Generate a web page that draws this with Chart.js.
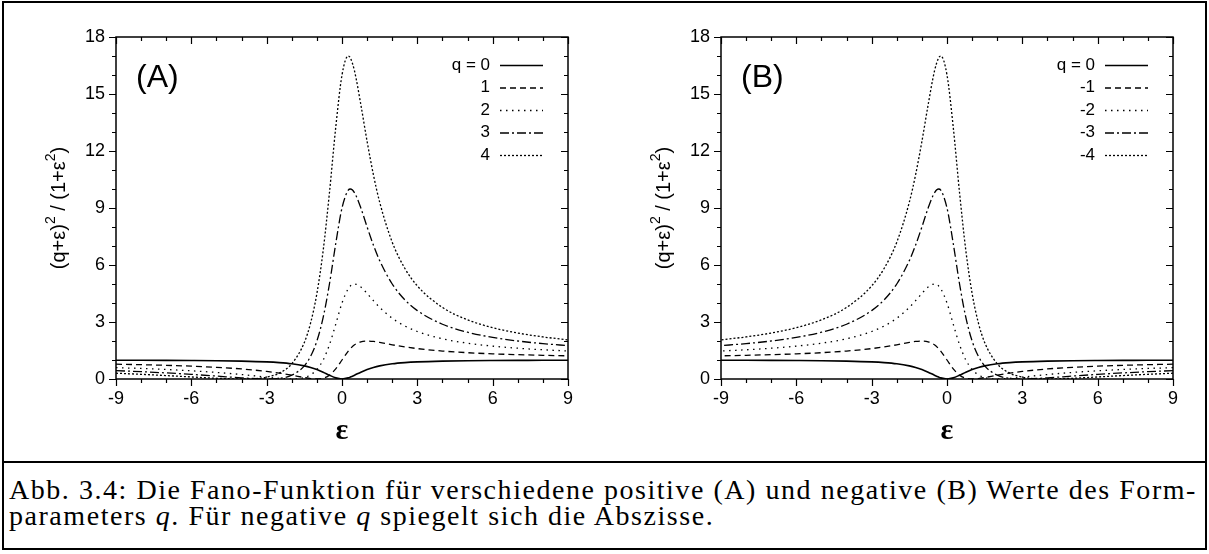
<!DOCTYPE html>
<html>
<head>
<meta charset="utf-8">
<script src="https://cdn.jsdelivr.net/npm/chart.js@4.4.0/dist/chart.umd.min.js"></script>
<style>
  body { margin: 0; background: #fff; width: 1209px; height: 554px; overflow: hidden; position: relative; }
  #frame { position: absolute; left: 2px; top: 1px; width: 1205px; height: 549px; border: 2px solid #000; box-sizing: border-box; }
  #rule { position: absolute; left: 2px; top: 461px; width: 1205px; height: 2px; background: #000; }
  canvas { position: absolute; top: 0; }
  #chartA { left: 0; }
  #chartB { left: 605px; }
  #caption { position: absolute; left: 9px; top: 477px; width: 1200px; font-family: "Liberation Serif", "Times New Roman", serif; font-size: 28px; line-height: 26px; color: #000; white-space: nowrap; }
</style>
</head>
<body>
<div id="frame"></div>
<div id="rule"></div>
<canvas id="chartA" width="600" height="460"></canvas>
<canvas id="chartB" width="600" height="460"></canvas>
<div id="caption">
  <div><span id="cap1">Abb. 3.4: Die Fano-Funktion für verschiedene positive (A) und negative (B) Werte des Form-</span></div>
  <div>parameters <i>q</i>. Für negative <i>q</i> spiegelt sich die Abszisse.</div>
</div>
<script>
// energy axis of panel A, and the mirrored axis of panel B
const eps = [-9, -8, -7, -6, -5, -4, -3, -2.5, -2, -1.5, -1.25, -1, -0.75, -0.5, -0.25, 0,
  0.25, 0.333, 0.5, 0.75, 1, 1.25, 1.5, 2, 2.5, 3, 4, 5, 6, 7, 8, 9];
const epsB = [9, 8, 7, 6, 5, 4, 3, 2.5, 2, 1.5, 1.25, 1, 0.75, 0.5, 0.25, 0,
  -0.25, -0.333, -0.5, -0.75, -1, -1.25, -1.5, -2, -2.5, -3, -4, -5, -6, -7, -8, -9];

// curve values (|q| = 0..4)
const q0 = [0.988, 0.985, 0.98, 0.973, 0.962, 0.941, 0.9, 0.862, 0.8, 0.692, 0.61, 0.5, 0.36, 0.2, 0.059, 0,
  0.059, 0.1, 0.2, 0.36, 0.5, 0.61, 0.692, 0.8, 0.862, 0.9, 0.941, 0.962, 0.973, 0.98, 0.985, 0.988];
const q1 = [0.78, 0.754, 0.72, 0.676, 0.615, 0.529, 0.4, 0.31, 0.2, 0.077, 0.024, 0, 0.04, 0.2, 0.529, 1,
  1.471, 1.6, 1.8, 1.96, 2, 1.976, 1.923, 1.8, 1.69, 1.6, 1.471, 1.385, 1.324, 1.28, 1.246, 1.22];
const q2 = [0.598, 0.554, 0.5, 0.432, 0.346, 0.235, 0.1, 0.034, 0, 0.077, 0.22, 0.5, 1, 1.8, 2.882, 4,
  4.765, 4.9, 5, 4.84, 4.5, 4.122, 3.769, 3.2, 2.793, 2.5, 2.118, 1.885, 1.73, 1.62, 1.538, 1.476];
const q3 = [0.439, 0.385, 0.32, 0.243, 0.154, 0.059, 0, 0.034, 0.2, 0.692, 1.195, 2, 3.24, 5, 7.118, 9,
  9.941, 10, 9.8, 9, 8, 7.049, 6.231, 5, 4.172, 3.6, 2.882, 2.462, 2.189, 2, 1.862, 1.756];
const q4 = [0.305, 0.246, 0.18, 0.108, 0.038, 0, 0.1, 0.31, 0.8, 1.923, 2.951, 4.5, 6.76, 9.8, 13.235, 16,
  17, 16.9, 16.2, 14.44, 12.5, 10.756, 9.308, 7.2, 5.828, 4.9, 3.765, 3.115, 2.703, 2.42, 2.215, 2.061];

const labelsA = ["q = 0", "1", "2", "3", "4"];
const labelsB = ["q = 0", "-1", "-2", "-3", "-4"];
const dashes = [[], [6, 4], [1.5, 4.5], [9, 3, 2, 3], [2, 2]];

const SANS = "'Liberation Sans', Arial, sans-serif";

// stretch the caption's first line to the full width, like the typeset original
(function fitCaption() {
  const cap = document.getElementById("caption");
  const span = document.getElementById("cap1");
  const target = 1188;
  const extra = (target - span.offsetWidth) / span.textContent.length;
  cap.style.letterSpacing = extra.toFixed(2) + "px";
})();

function drawRich(ctx, parts, cx, cy) {
  // text with superscripts, centred on cx
  let total = 0;
  parts.forEach(p => {
    ctx.font = (p.sup ? "14px " : "20px ") + SANS;
    p.w = ctx.measureText(p.t).width;
    total += p.w;
  });
  let x = cx - total / 2;
  parts.forEach(p => {
    ctx.font = (p.sup ? "14px " : "20px ") + SANS;
    ctx.fillText(p.t, x, p.sup ? cy - 8 : cy);
    x += p.w;
  });
}

const framePlugin = {
  id: "frame",
  afterDraw(chart, args, opts) {
    const { ctx, chartArea: a, scales: { x, y } } = chart;
    ctx.save();
    ctx.strokeStyle = "#000";
    ctx.fillStyle = "#000";
    ctx.setLineDash([]);
    ctx.lineWidth = 1.5;
    ctx.strokeRect(a.left, a.top, a.right - a.left, a.bottom - a.top);

    // ticks all point left / down, like the original
    ctx.lineWidth = 1.2;
    ctx.beginPath();
    for (let v = x.min; v <= x.max; v++) {
      const px = Math.round(x.getPixelForValue(v)) + 0.5;
      const len = v % 3 === 0 ? 7 : 4;
      ctx.moveTo(px, a.bottom); ctx.lineTo(px, a.bottom + len);
      ctx.moveTo(px, a.top); ctx.lineTo(px, a.top + len);
    }
    for (let v = y.min; v <= y.max; v++) {
      const py = Math.round(y.getPixelForValue(v)) + 0.5;
      const len = v % 3 === 0 ? 7 : 4;
      ctx.moveTo(a.left - len, py); ctx.lineTo(a.left, py);
      ctx.moveTo(a.right - len, py); ctx.lineTo(a.right, py);
    }
    ctx.stroke();

    // y title
    ctx.save();
    ctx.translate(a.left - 57, (a.top + a.bottom) / 2);
    ctx.rotate(-Math.PI / 2);
    ctx.textBaseline = "middle";
    drawRich(ctx, [{ t: "(q+ε)" }, { t: "2", sup: true }, { t: " / (1+ε" }, { t: "2", sup: true }, { t: ")" }], 0, 0);
    ctx.restore();

    // x title
    ctx.font = "bold 30px 'Liberation Serif', serif";
    ctx.textAlign = "center";
    ctx.textBaseline = "middle";
    ctx.fillText("ε", (a.left + a.right) / 2, 431);

    // panel tag
    ctx.font = "32px " + SANS;
    ctx.textAlign = "left";
    ctx.fillText(opts.tag, a.left + 20, 78);

    // legend
    ctx.font = "17px " + SANS;
    ctx.textAlign = "right";
    ctx.lineWidth = 1.3;
    chart.data.datasets.forEach((ds, i) => {
      const ry = a.top + 28 + i * 22.5;
      ctx.fillText(ds.label, a.right - 78, ry);
      ctx.setLineDash(ds.borderDash);
      ctx.beginPath();
      ctx.moveTo(a.right - 68, ry + 0.5);
      ctx.lineTo(a.right - 25, ry + 0.5);
      ctx.stroke();
    });
    ctx.restore();
  }
};

function makePanel(id, xs, labels, tag) {
  const series = [q0, q1, q2, q3, q4];
  const datasets = series.map((vals, i) => ({
    label: labels[i],
    data: xs.map((e, k) => ({ x: e, y: vals[k] })),
    borderColor: "#000",
    borderWidth: i === 0 ? 1.6 : 1.3,
    borderDash: dashes[i],
    pointRadius: 0,
    cubicInterpolationMode: "monotone",
    fill: false,
  }));
  return new Chart(document.getElementById(id), {
    type: "line",
    data: { datasets },
    plugins: [framePlugin],
    options: {
      responsive: false,
      animation: false,
      layout: { padding: { left: 0, right: 32, top: 37, bottom: 0 } },
      plugins: {
        legend: { display: false },
        tooltip: { enabled: false },
        frame: { tag },
      },
      scales: {
        x: {
          type: "linear",
          min: -9, max: 9,
          grid: { display: false, drawTicks: false, tickLength: 0 },
          border: { display: false },
          ticks: { stepSize: 3, color: "#000", padding: 9, font: { family: SANS, size: 18 } },
          afterFit: (s) => { s.height = 81; },
        },
        y: {
          min: 0, max: 18,
          grid: { display: false, drawTicks: false, tickLength: 0 },
          border: { display: false },
          ticks: { stepSize: 3, color: "#000", padding: 11, font: { family: SANS, size: 18 } },
          afterFit: (s) => { s.width = 116; },
        },
      },
    },
  });
}

makePanel("chartA", eps, labelsA, "(A)");
makePanel("chartB", epsB, labelsB, "(B)");
</script>
</body>
</html>
